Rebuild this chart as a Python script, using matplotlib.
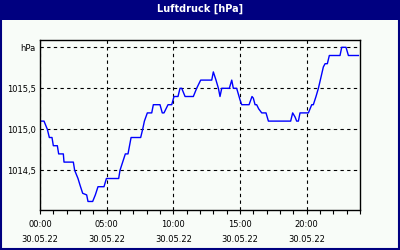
import matplotlib.pyplot as plt
from matplotlib.patches import Rectangle
from matplotlib.ticker import MultipleLocator

# =========================
# DATA
# =========================
hours = [0.0, 0.3, 0.55, 0.7, 0.9, 1.0, 1.3, 1.4, 1.75, 1.8, 2.5, 2.6, 2.85, 3.0,
         3.2, 3.5, 3.6, 3.95, 4.15, 4.35, 4.8, 4.98, 5.9, 6.0, 6.2, 6.4, 6.6, 6.83,
         7.55, 7.7, 7.83, 8.05, 8.38, 8.5, 9.0, 9.17, 9.3, 9.45, 9.6, 9.88, 10.05,
         10.35, 10.5, 10.63, 10.88, 11.5, 11.75, 12.05, 12.88, 13.0, 13.2, 13.38,
         13.5, 13.63, 14.2, 14.38, 14.5, 14.75, 15.0, 15.13, 15.68, 15.9, 16.0,
         16.13, 16.25, 16.4, 16.63, 16.95, 17.13, 18.8, 18.95, 19.13, 19.25, 19.38,
         19.5, 20.13, 20.38, 20.5, 20.7, 20.88, 21.08, 21.25, 21.38, 21.55, 21.7,
         22.5, 22.63, 22.95, 23.13, 23.88]
pressure = [1015.1, 1015.1, 1015.0, 1014.9, 1014.9, 1014.8, 1014.8, 1014.7, 1014.7,
            1014.6, 1014.6, 1014.5, 1014.4, 1014.32, 1014.22, 1014.2, 1014.12,
            1014.12, 1014.2, 1014.3, 1014.3, 1014.4, 1014.4, 1014.5, 1014.6, 1014.7,
            1014.7, 1014.9, 1014.9, 1015.0, 1015.1, 1015.2, 1015.2, 1015.3, 1015.3,
            1015.2, 1015.2, 1015.25, 1015.3, 1015.3, 1015.4, 1015.4, 1015.5, 1015.5,
            1015.4, 1015.4, 1015.5, 1015.6, 1015.6, 1015.7, 1015.6, 1015.5, 1015.4,
            1015.5, 1015.5, 1015.6, 1015.5, 1015.5, 1015.36, 1015.3, 1015.3, 1015.4,
            1015.38, 1015.3, 1015.3, 1015.25, 1015.2, 1015.2, 1015.1, 1015.1, 1015.2,
            1015.15, 1015.1, 1015.1, 1015.2, 1015.2, 1015.3, 1015.3, 1015.4, 1015.5,
            1015.64, 1015.76, 1015.8, 1015.8, 1015.9, 1015.9, 1016.0, 1016.0,
            1015.9, 1015.9]

x_ticks = [0, 5, 10, 15, 20]
x_labels = ["00:00\n30.05.22", "05:00\n30.05.22", "10:00\n30.05.22",
            "15:00\n30.05.22", "20:00\n30.05.22"]
y_ticks = [1014.5, 1015.0, 1015.5, 1016.0]
y_labels = ["1014,5", "1015,0", "1015,5", "hPa"]

title = "Luftdruck [hPa]"

# =========================
# PLOT
# =========================
navy = "#000080"
bg = "#f8fcf8"

fig = plt.figure(figsize=(4, 2.5), dpi=100)
fig.patch.set_facecolor(bg)

# title bar + frame
fig.patches.append(Rectangle((0, 0.92), 1, 0.08, transform=fig.transFigure,
                             facecolor=navy, edgecolor="none", zorder=0))
fig.patches.append(Rectangle((0.0025, 0.004), 0.995, 0.992, transform=fig.transFigure,
                             facecolor="none", edgecolor=navy, lw=1.5, zorder=5))
fig.text(0.5, 0.966, title, color="white", fontsize=7, fontweight="bold",
         ha="center", va="center")

ax = fig.add_axes([0.1, 0.16, 0.8, 0.68])
ax.set_facecolor(bg)
ax.plot(hours, pressure, color="#0000ff", lw=1.0)

ax.set_xlim(0, 24)
ax.set_ylim(1014.016, 1016.089)

ax.set_xticks(x_ticks)
ax.set_xticklabels(x_labels, fontsize=6)
for lab in ax.get_xticklabels():
    lab.set_linespacing(1.9)
ax.xaxis.set_minor_locator(MultipleLocator(1))
ax.set_yticks(y_ticks)
ax.set_yticklabels(y_labels, fontsize=6)

ax.tick_params(axis="x", which="both", direction="out", length=3, width=0.8, pad=4)
ax.tick_params(axis="y", length=0, pad=3)

ax.grid(True, which="major", color="black", linestyle=(0, (3, 3)), lw=0.8)
for s in ax.spines.values():
    s.set_linewidth(1.0)
    s.set_color("black")

plt.savefig("out.png", dpi=100, facecolor=bg)
